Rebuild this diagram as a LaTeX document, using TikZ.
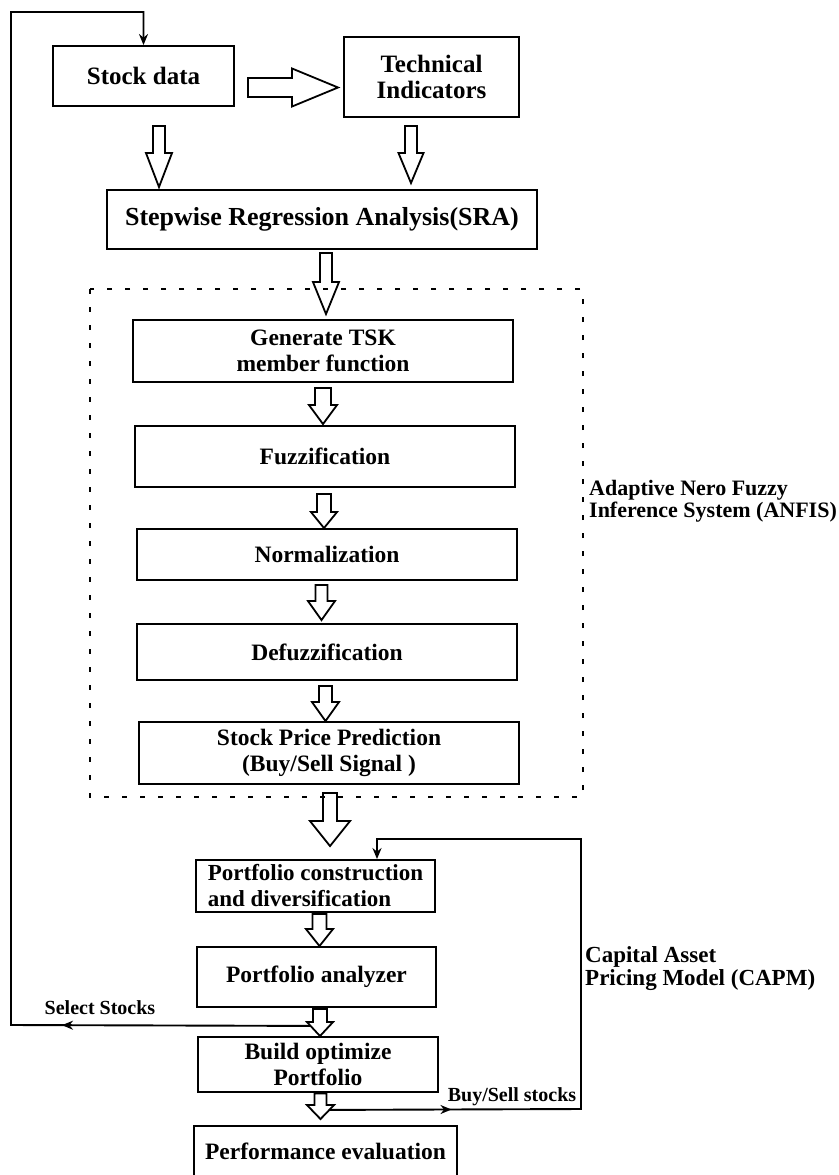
\documentclass[tikz,border=0pt]{standalone}
\usepackage{fontspec}
\setmainfont{Liberation Serif}
\usepackage{tikz}
\usetikzlibrary{calc}
\usetikzlibrary{arrows.meta}
\usetikzlibrary{decorations.markings}

\tikzstyle{block} = [draw=black, line width=1.9pt, rectangle, inner sep=0pt,
align=center, font=\bfseries\fontsize{23.5}{26}\selectfont]
\tikzstyle{note} = [inner sep=0pt, align=left, font=\bfseries\fontsize{22}{22}\selectfont]
\tikzstyle{fat} = [draw=black, fill=white, line width=1.8pt]
\tikzstyle{feedback} = [draw=black, line width=1.9pt, -{Stealth[length=11pt,width=9pt]}]
\tikzstyle{dotbox} = [draw=black, line width=2.7pt, dash pattern=on 5pt off 13pt]
\tikzset{midarrow/.style={postaction={decorate}, decoration={markings,
    mark=at position #1 with {\arrow{Stealth[length=11pt,width=9pt]}}}}}

% hollow block arrows: start, tip, half shaft, half head, head length
\newcommand{\fatdown}[5]{%
\draw[fat] let \p1=#1, \p2=#2 in
    (\x2-#3,\y1) -- (\x2-#3,\y2+#5) -- (\x2-#4,\y2+#5) -- (\p2) --
    (\x2+#4,\y2+#5) -- (\x2+#3,\y2+#5) -- (\x2+#3,\y1) -- cycle;
}
\newcommand{\fatright}[5]{%
\draw[fat] let \p1=#1, \p2=#2 in
    (\x1,\y2+#3) -- (\x2-#5,\y2+#3) -- (\x2-#5,\y2+#4) -- (\p2) --
    (\x2-#5,\y2-#4) -- (\x2-#5,\y2-#3) -- (\x1,\y2-#3) -- cycle;
}

\begin{document}
\begin{tikzpicture}[x=1pt, y=-1pt]
    \path[use as bounding box, clip] (0,0) rectangle (838,1175);

    \node[block, font=\bfseries\fontsize{25}{28}\selectfont, minimum width=181pt, minimum height=60pt] (sd) at (143.5,76) {Stock data};
    \node[block, font=\bfseries\fontsize{25}{26}\selectfont, minimum width=175pt, minimum height=80pt] (ti) at (431.5,77) {Technical\\Indicators};
    \node[block, font=\bfseries\fontsize{26}{28}\selectfont, minimum width=430pt, minimum height=59pt] (sra) at (322,219.5) {Stepwise Regression Analysis(SRA)};

    \node[block, minimum width=380pt, minimum height=62pt] (gtsk) at (323,351) {Generate TSK\\member function};
    \node[block, minimum width=380pt, minimum height=61pt] (fuzz) at (325,456.5) {Fuzzification};
    \node[block, minimum width=380pt, minimum height=51pt] (norm) at (327,554.5) {Normalization};
    \node[block, minimum width=380pt, minimum height=56pt] (defuzz) at (327,652) {Defuzzification};
    \node[block, minimum width=380pt, minimum height=62pt] (spp) at (329,753) {Stock Price Prediction\\(Buy/Sell Signal )};

    \node[block, align=left, font=\bfseries\fontsize{23}{26}\selectfont, minimum width=239pt, minimum height=52pt] (pc) at (315.5,886) {Portfolio construction\\and diversification};
    \node[block, minimum width=239pt, minimum height=60pt] (pa) at (316.5,977) {Portfolio analyzer};
    \node[block, minimum width=240pt, minimum height=55pt] (bo) at (318,1064.5) {Build optimize\\Portfolio};
    \node[block, minimum width=263pt, minimum height=50pt] (pe) at (325.5,1151) {Performance evaluation};

    \node[note, anchor=west] (anfisnote) at (589,501) {Adaptive Nero Fuzzy\\Inference System (ANFIS)};
    \node[note, anchor=west, font=\bfseries\fontsize{23}{23}\selectfont] (capmnote) at (585,968.5) {Capital Asset\\Pricing Model (CAPM)};
    \node[note, font=\bfseries\fontsize{20}{22}\selectfont] (selectnote) at (100,1008) {Select Stocks};
    \node[note, font=\bfseries\fontsize{20}{22}\selectfont] (buysellnote) at (512,1097) {Buy/Sell stocks};

    % feedback loops
    \draw[feedback, midarrow=258pt] ($(pa.south)+(3.5,18)$) -- (11,1025) -- (11,12) -| (sd.north);
    \draw[feedback, midarrow=131pt] ($(bo.south)+(2.5,17)$) -- (581,1109) -- (581,839) -| ($(pc.north)+(61.5,0)$);

    \fatright{($(sd.east)+(13,11.5)$)}{($(ti.west)+(-5,10.5)$)}{9.5pt}{19pt}{46pt}
    \fatdown{($(sd.south)+(0,19)$)}{($(sra.north)+(-163,-2)$)}{6pt}{13pt}{34pt}
    \fatdown{($(ti.south)+(0,8)$)}{($(sra.north)+(89,-6)$)}{6pt}{12.5pt}{30pt}
    \fatdown{($(sra.south)+(0,3)$)}{($(gtsk.north)+(3,-5)$)}{6pt}{13pt}{32pt}
    \fatdown{($(gtsk.south)+(0,5)$)}{($(fuzz.north)+(-2,-1)$)}{8pt}{14pt}{19pt}
    \fatdown{($(fuzz.south)+(0,6)$)}{($(norm.north)+(-3,0)$)}{7pt}{13pt}{16pt}
    \fatdown{($(norm.south)+(0,4)$)}{($(defuzz.north)+(-5.5,-3)$)}{6pt}{13.5pt}{19pt}
    \fatdown{($(defuzz.south)+(0,5)$)}{($(spp.north)+(-3.5,0)$)}{6.5pt}{13.5pt}{19pt}
    \fatdown{($(spp.south)+(0,8)$)}{($(pc.north)+(14.5,-13)$)}{7pt}{20pt}{25pt}
    \fatdown{($(pc.south)+(0,1)$)}{($(pa.north)+(3,0)$)}{7pt}{13.5pt}{17pt}
    \fatdown{($(pa.south)+(0,1)$)}{($(bo.north)+(2,0)$)}{7pt}{13pt}{14pt}
    \fatdown{($(bo.south)+(0,0.5)$)}{($(pe.north)+(-5,-6)$)}{6pt}{13.5pt}{14pt}

    % ANFIS frame
    \draw[dotbox] (90,289) rectangle (583,797);
\end{tikzpicture}
\end{document}
